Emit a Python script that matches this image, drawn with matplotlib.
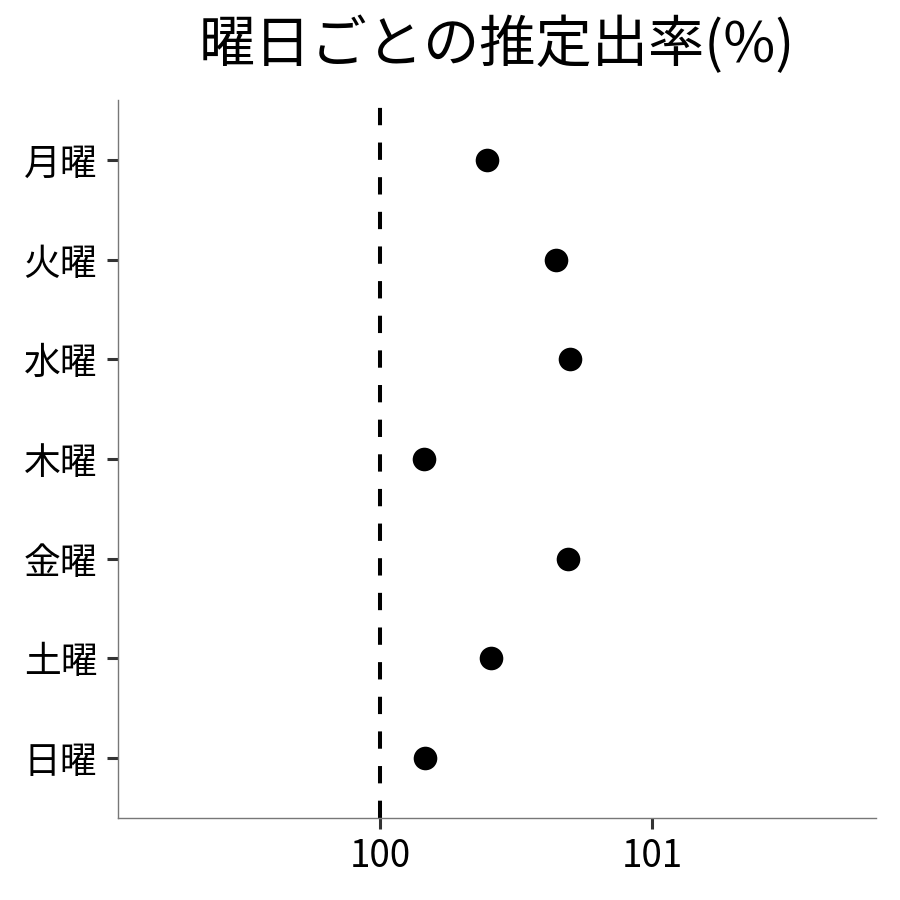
import matplotlib
matplotlib.use("Agg")
import matplotlib.pyplot as plt

plt.rcParams['font.family'] = ['Noto Sans CJK JP', 'DejaVu Sans']

days = ["月曜", "火曜", "水曜", "木曜", "金曜", "土曜", "日曜"]
rates = [100.393, 100.647, 100.699, 100.162, 100.691, 100.408, 100.165]
ref_value = 100
xticks = [100, 101]
title = "曜日ごとの推定出率(%)"

fig = plt.figure(figsize=(9, 9), dpi=100)
ax = fig.add_axes([118/900, 1-818/900, (876-118)/900, (818-100)/900])

ypos = list(range(len(days)))[::-1]
ax.axvline(ref_value, color='black', lw=2.9, linestyle=(0, (4.3, 4.3)), zorder=1)
ax.scatter(rates, ypos, s=17**2, color='black', zorder=3, linewidths=0)

ax.set_xlim(99.037, 101.824)
ax.set_ylim(-0.6, len(days) - 1 + 0.6)
ax.set_yticks(ypos)
ax.set_yticklabels(days)
ax.set_xticks(xticks)
ax.set_xticklabels([str(v) for v in xticks])

for s in ['top', 'right']:
    ax.spines[s].set_visible(False)
for s in ['left', 'bottom']:
    ax.spines[s].set_color('#777777')
    ax.spines[s].set_linewidth(1.0)
ax.tick_params(axis='both', length=8, width=2.2, color='#333333', labelsize=26.5, labelcolor='black', pad=6)
ax.tick_params(axis='y', pad=7)

ax.set_title(title, fontsize=40.5, pad=27)

fig.savefig("out.png", dpi=100)
